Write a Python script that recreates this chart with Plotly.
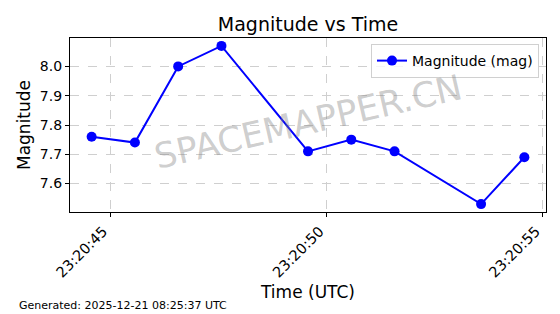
import plotly.graph_objects as go
import pandas as pd

times = ["2025-12-20 23:20:44.57", "2025-12-20 23:20:45.57", "2025-12-20 23:20:46.57",
         "2025-12-20 23:20:47.57", "2025-12-20 23:20:49.57", "2025-12-20 23:20:50.57",
         "2025-12-20 23:20:51.57", "2025-12-20 23:20:53.57", "2025-12-20 23:20:54.57"]
magnitudes = [7.76, 7.74, 8.00, 8.07, 7.71, 7.75, 7.71, 7.53, 7.69]
series_name = "Magnitude (mag)"
title_text = "Magnitude vs Time"
x_title = "Time (UTC)"
y_title = "Magnitude"
generated_text = "Generated: 2025-12-21 08:25:37 UTC"
watermark = "SPACEMAPPER.CN"

t = pd.to_datetime(times)
span = t.max() - t.min()
xr = [t.min() - span * 0.05, t.max() + span * 0.05]
ymin, ymax = min(magnitudes), max(magnitudes)
ys = ymax - ymin
yr = [ymin - ys * 0.05, ymax + ys * 0.05]

FONT = "DejaVu Sans"
L, R, T, B = 70, 14, 38, 102
PW, PH = 560 - L - R, 314 - T - B

fig = go.Figure()
fig.add_trace(go.Scatter(
    x=t, y=magnitudes, mode="lines+markers", name=series_name,
    line=dict(color="#0000ff", width=2),
    marker=dict(color="#0000ff", size=10),
))

fig.update_layout(
    width=560, height=314,
    margin=dict(l=L, r=R, t=T, b=B),
    paper_bgcolor="white", plot_bgcolor="white",
    font=dict(family=FONT, color="black", size=14),
    showlegend=True,
    legend=dict(x=(539 - L) / PW, y=1 - 6 / PH, xanchor="right", yanchor="top",
                bgcolor="rgba(255,255,255,0.8)", bordercolor="#d0d0d0", borderwidth=1,
                font=dict(size=14, family=FONT), itemwidth=30),
    title=dict(text=title_text, x=0.5, xref="paper", xanchor="center",
               y=1 - 24 / 314, yref="container", yanchor="middle",
               font=dict(size=19, family=FONT)),
)

fig.update_xaxes(
    type="date", range=xr, tickformat="%H:%M:%S",
    tick0="2025-12-20 23:20:45", dtick=5000,
    tickangle=-45, ticks="outside", ticklen=4, tickcolor="black",
    ticklabelshift=-7,
    showline=True, linecolor="black", linewidth=1.2, mirror=True,
    showgrid=True, gridcolor="#cfcfcf", griddash="dash", gridwidth=1,
    zeroline=False,
    title=dict(text=x_title, font=dict(size=17, family=FONT), standoff=6),
    tickfont=dict(size=14.5),
)
fig.update_yaxes(
    range=yr, dtick=0.1, tick0=7.6, tickformat=".1f",
    ticks="outside", ticklen=4, tickcolor="black",
    showline=True, linecolor="black", linewidth=1.2, mirror=True,
    showgrid=True, gridcolor="#cfcfcf", griddash="dash", gridwidth=1,
    zeroline=False,
    title=dict(text=y_title, font=dict(size=17, family=FONT), standoff=4),
    tickfont=dict(size=14),
)

fig.add_annotation(
    text=watermark, xref="paper", yref="paper", x=0.5, y=0.52,
    showarrow=False, textangle=-13,
    font=dict(size=35, color="rgba(128,128,128,0.4)", family=FONT),
)
fig.add_annotation(
    text=generated_text, xref="paper", yref="paper",
    x=-(L - 17) / PW, y=-(305 - (T + PH)) / PH, xanchor="left", yanchor="middle",
    showarrow=False, font=dict(size=11, family=FONT),
)

fig.write_html("out.html")
